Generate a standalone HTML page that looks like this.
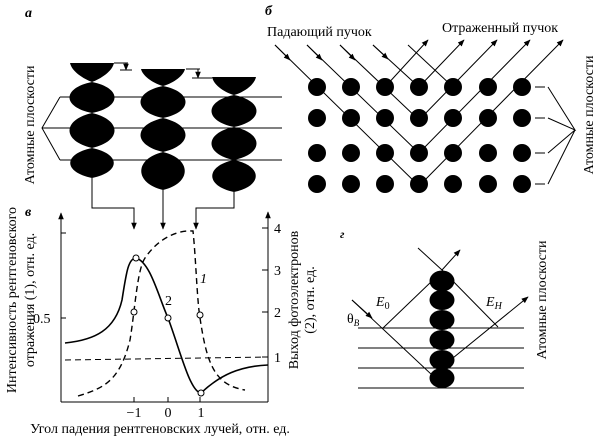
<!DOCTYPE html>
<html><head><meta charset="utf-8"><style>body{margin:0;background:#fff}svg{display:block}text{font-family:"Liberation Serif",serif;fill:#000}</style></head><body>
<svg width="600" height="441" viewBox="0 0 600 441" xmlns="http://www.w3.org/2000/svg">
<defs><marker id="ar" viewBox="0 0 10 10" refX="9" refY="5" markerWidth="7" markerHeight="7" orient="auto"><path d="M0,1L10,5L0,9z"/></marker></defs>
<g stroke="#000" stroke-width="1" fill="none">
<line x1="60" y1="97" x2="282" y2="97"/><line x1="60" y1="128" x2="282" y2="128"/><line x1="60" y1="160" x2="282" y2="160"/>
<polyline points="60,97 42,128 60,160"/><line x1="42" y1="128" x2="60" y2="128"/>
<line x1="114" y1="63" x2="128" y2="63"/><line x1="126" y1="63" x2="126" y2="70" marker-end="url(#ar)"/><line x1="120" y1="70" x2="132" y2="70"/>
<line x1="186" y1="69" x2="200" y2="69"/><line x1="198" y1="69" x2="198" y2="78" marker-end="url(#ar)"/><line x1="192" y1="78" x2="212" y2="78"/>
<polyline points="92,178 92,208 134,208 134,229" marker-end="url(#ar)"/>
<line x1="163" y1="190" x2="163" y2="229" marker-end="url(#ar)"/>
<polyline points="234,192 234,208 196,208 196,229" marker-end="url(#ar)"/>
<line x1="61" y1="402" x2="61" y2="213" marker-end="url(#ar)"/>
<line x1="268" y1="402" x2="268" y2="212" marker-end="url(#ar)"/>
<line x1="61" y1="402" x2="268" y2="402"/>
<line x1="61" y1="318" x2="66" y2="318"/><line x1="61" y1="233" x2="66" y2="233"/>
<line x1="262" y1="228" x2="268" y2="228"/><line x1="262" y1="270" x2="268" y2="270"/><line x1="262" y1="312" x2="268" y2="312"/><line x1="262" y1="357" x2="268" y2="357"/>
<line x1="134" y1="402" x2="134" y2="397"/><line x1="168" y1="402" x2="168" y2="397"/><line x1="200" y1="402" x2="200" y2="397"/>
<path d="M65,343 C95,340 115,330 122,300 C126,275 128,258 136,258 C150,262 158,295 168,318 C180,350 190,392 201,393 C220,375 240,366 268,365" stroke-width="1.6"/>
<path d="M78,396 C105,388 120,380 130,340 C135,310 137,270 145,258 C160,236 180,230 193,231 C196,260 197,300 200,318 C207,365 215,385 245,390" stroke-width="1.4" stroke-dasharray="6,4"/>
<line x1="65" y1="360" x2="268" y2="357" stroke-dasharray="6,4"/>
<g fill="#fff"><circle cx="136" cy="258" r="3"/><circle cx="134" cy="312" r="3"/><circle cx="168" cy="318" r="3"/><circle cx="200" cy="315" r="3"/><circle cx="201" cy="393" r="3"/></g>
<polyline points="275,45 419,186 563,40" marker-end="url(#ar)"/>
<polyline points="307,45 419,153 530,40" marker-end="url(#ar)"/>
<polyline points="340,45 419,120 497,40" marker-end="url(#ar)"/>
<polyline points="373,45 419,87 464,40" marker-end="url(#ar)"/>
<line x1="408" y1="45" x2="453" y2="87"/>
<line x1="385" y1="87" x2="428" y2="40" marker-end="url(#ar)"/>
<line x1="535" y1="87" x2="545" y2="87"/><line x1="535" y1="118" x2="545" y2="118"/><line x1="535" y1="153" x2="545" y2="153"/><line x1="535" y1="184" x2="545" y2="184"/>
<polyline points="548,87 575,130 548,118"/><polyline points="548,153 575,130 548,184"/>
<line x1="358" y1="328" x2="524" y2="328"/><line x1="358" y1="348" x2="524" y2="348"/><line x1="358" y1="368" x2="524" y2="368"/><line x1="358" y1="388" x2="524" y2="388"/>
<polyline points="352,300 432,375 528,297" marker-end="url(#ar)"/>
<line x1="383" y1="328" x2="432" y2="281"/>
<line x1="442" y1="270" x2="498" y2="327"/>
<line x1="418" y1="248" x2="442" y2="270"/>
<line x1="442" y1="270" x2="460" y2="250" marker-end="url(#ar)"/>
</g>
<g stroke="#000" stroke-width="1" fill="none"><line x1="352" y1="300" x2="372" y2="318" marker-end="url(#ar)"/><line x1="275" y1="45" x2="290" y2="60" marker-end="url(#ar)"/><line x1="307" y1="45" x2="322" y2="60" marker-end="url(#ar)"/><line x1="340" y1="45" x2="355" y2="60" marker-end="url(#ar)"/><line x1="373" y1="45" x2="388" y2="59" marker-end="url(#ar)"/></g>
<g fill="#000">
<path d="M70,63 L114,63 C112,72 100,79 92,82 C84,79 72,72 70,63Z"/>
<path d="M92,82 C122,88 122,107 92,113 C62,107 62,88 92,82Z"/><path d="M92,113 C122,120 122,141 92,148 C62,141 62,120 92,113Z"/><path d="M92,148 C121,154 121,172 92,178 C63,172 63,154 92,148Z"/>
<path d="M141,69 L185,69 C183,77 171,84 163,86 C155,84 143,77 141,69Z"/>
<path d="M163,86 C193,92 193,112 163,118 C133,112 133,92 163,86Z"/><path d="M163,118 C193,125 193,145 163,152 C133,145 133,125 163,118Z"/><path d="M163,152 C192,159 192,183 163,190 C134,183 134,159 163,152Z"/>
<path d="M212,77 L256,77 C254,86 242,93 234,95 C226,93 214,86 212,77Z"/>
<path d="M234,95 C264,101 264,121 234,127 C204,121 204,101 234,95Z"/><path d="M234,127 C264,133 264,154 234,160 C204,154 204,133 234,127Z"/><path d="M234,160 C263,166 263,186 234,192 C205,186 205,166 234,160Z"/>
<circle cx="317" cy="87" r="9"/><circle cx="351" cy="87" r="9"/><circle cx="385" cy="87" r="9"/><circle cx="419" cy="87" r="9"/><circle cx="453" cy="87" r="9"/><circle cx="488" cy="87" r="9"/><circle cx="522" cy="87" r="9"/>
<circle cx="317" cy="118" r="9"/><circle cx="351" cy="118" r="9"/><circle cx="385" cy="118" r="9"/><circle cx="419" cy="118" r="9"/><circle cx="453" cy="118" r="9"/><circle cx="488" cy="118" r="9"/><circle cx="522" cy="118" r="9"/>
<circle cx="317" cy="153" r="9"/><circle cx="351" cy="153" r="9"/><circle cx="385" cy="153" r="9"/><circle cx="419" cy="153" r="9"/><circle cx="453" cy="153" r="9"/><circle cx="488" cy="153" r="9"/><circle cx="522" cy="153" r="9"/>
<circle cx="317" cy="184" r="9"/><circle cx="351" cy="184" r="9"/><circle cx="385" cy="184" r="9"/><circle cx="419" cy="184" r="9"/><circle cx="453" cy="184" r="9"/><circle cx="488" cy="184" r="9"/><circle cx="522" cy="184" r="9"/>
<ellipse cx="442" cy="281" rx="12.5" ry="10.5"/>
<ellipse cx="442" cy="300" rx="12.5" ry="10"/><ellipse cx="442" cy="320" rx="12.5" ry="10"/><ellipse cx="442" cy="340" rx="12.5" ry="10"/><ellipse cx="442" cy="360" rx="12.5" ry="10"/><ellipse cx="442" cy="378" rx="12.5" ry="10"/>
</g>
<g font-size="14">
<text x="25" y="17" font-style="italic" font-weight="bold">а</text>
<text x="265" y="15" font-style="italic" font-weight="bold">б</text>
<text x="25" y="216" font-style="italic" font-weight="bold">в</text>
<text x="340" y="238" font-style="italic" font-weight="bold" font-size="12">г</text>
<text x="267" y="36">Падающий пучок</text>
<text x="442" y="32">Отраженный пучок</text>
<text transform="translate(34,125) rotate(-90)" text-anchor="middle">Атомные плоскости</text>
<text transform="translate(593,115) rotate(-90)" text-anchor="middle">Атомные плоскости</text>
<text transform="translate(546,300) rotate(-90)" text-anchor="middle">Атомные плоскости</text>
<text transform="translate(16,300) rotate(-90)" text-anchor="middle">Интенсивность рентгеновского</text>
<text transform="translate(34,300) rotate(-90)" text-anchor="middle">отражения (1), отн. ед.</text>
<text transform="translate(298,300) rotate(-90)" text-anchor="middle">Выход фотоэлектронов</text>
<text transform="translate(314,300) rotate(-90)" text-anchor="middle">(2), отн. ед.</text>
<text x="160" y="433" text-anchor="middle">Угол падения рентгеновских лучей, отн. ед.</text>
<text x="33" y="323">0.5</text>
<text x="274" y="233">4</text><text x="274" y="275">3</text><text x="274" y="317">2</text><text x="274" y="362">1</text>
<text x="134" y="417" text-anchor="middle">−1</text><text x="168" y="417" text-anchor="middle">0</text><text x="201" y="417" text-anchor="middle">1</text>
<text x="165" y="305">2</text><text x="200" y="283" font-style="italic">1</text>
<text x="376" y="306" font-style="italic">E<tspan font-size="10" dy="3" font-style="normal">0</tspan></text>
<text x="486" y="306" font-style="italic">E<tspan font-size="10" dy="3">H</tspan></text>
<text x="347" y="323">θ<tspan font-size="9" dy="3" font-style="italic">B</tspan></text>
</g>
</svg>
</body></html>
